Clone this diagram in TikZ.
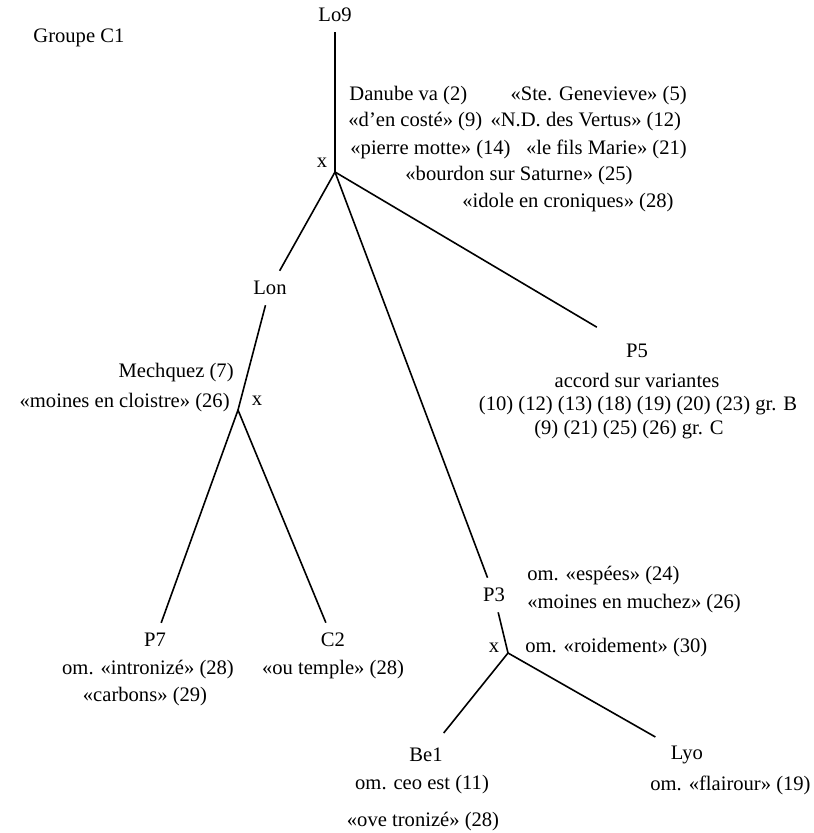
\documentclass[tikz,border=0pt]{standalone}
\usepackage{fontspec}
\setmainfont{Liberation Serif}
\usepackage{tikz}
\usetikzlibrary{positioning,calc}

\begin{document}
\begin{tikzpicture}[x=0.5pt, y=-0.5pt,
  ms/.style={inner sep=5pt, font=\fontsize{10.3}{12}\selectfont},
  note/.style={inner sep=0pt, font=\fontsize{10.3}{12}\selectfont},
  branch/.style={line width=0.8pt}
]
\useasboundingbox (0,0) rectangle (813,833);

\node[note, anchor=west] (title) at (33,38) {Groupe C1};

\node[ms] (lo9) at (335,15) {Lo9};
\coordinate (jA) at (335,172);
\node[note] (xA) at (322,163) {x};
\node[note, anchor=west] (vA1) at (349,96) {Danube va (2)\hspace{2.1em}«Ste. Genevieve» (5)};
\node[note, anchor=west] (vA2) at (348,122) {«d’en costé» (9)\hspace{0.15em} «N.D. des Vertus» (12)};
\node[note, anchor=west] (vA3) at (350,149) {«pierre motte» (14)\hspace{0.5em} «le fils Marie» (21)};
\node[note, anchor=west] (vA4) at (405,176) {«bourdon sur Saturne» (25)};
\node[note, anchor=west] (vA5) at (462,203) {«idole en croniques» (28)};

\node[ms] (lon) at (270,288) {Lon};
\node[ms] (p5) at (637,351) {P5};
\node[note] (p5a) at (637,380) {accord sur variantes};
\node[note] (p5b) at (638,406) {(10) (12) (13) (18) (19) (20) (23) gr. B};
\node[note] (p5c) at (629,430) {(9) (21) (25) (26) gr. C};

\coordinate (jB) at (238,410);
\node[note] (xB) at (257,401) {x};
\node[note, anchor=east] (vB1) at (234,373) {Mechquez (7)};
\node[note, anchor=east] (vB2) at (230,403) {«moines en cloistre» (26)};

\node[ms] (p7) at (155,640) {P7};
\node[ms] (c2) at (333,640) {C2};
\node[note] (p7a) at (148,670) {om. «intronizé» (28)};
\node[note] (p7b) at (145,697) {«carbons» (29)};
\node[note] (c2a) at (333,670) {«ou temple» (28)};

\node[ms] (p3) at (494,595) {P3};
\node[note, anchor=west] (p3a) at (527,576) {om. «espées» (24)};
\node[note, anchor=west] (p3b) at (527,604) {«moines en muchez» (26)};

\coordinate (jC) at (508,653);
\node[note] (xC) at (494,648) {x};
\node[note, anchor=west] (vC1) at (525,648) {om. «roidement» (30)};

\node[ms] (be1) at (426,755) {Be1};
\node[ms] (lyo) at (687,755) {Lyo};
\node[note] (be1a) at (422,785) {om. ceo est (11)};
\node[note] (be1b) at (423,822) {«ove tronizé» (28)};
\node[note, anchor=west] (lyoa) at (650,785) {om. «flairour» (19)};

\draw[branch] (lo9) -- (jA);
\draw[branch] (jA) -- (lon);
\draw[branch] (jA) -- (p3);
\draw[branch, shorten >=11pt] (jA) -- (p5);
\draw[branch] (lon) -- (jB);
\draw[branch] (jB) -- (p7);
\draw[branch] (jB) -- (c2);
\draw[branch] (p3) -- (jC);
\draw[branch, shorten >=3pt] (jC) -- (be1);
\draw[branch, shorten >=3pt] (jC) -- (lyo);
\end{tikzpicture}
\end{document}
